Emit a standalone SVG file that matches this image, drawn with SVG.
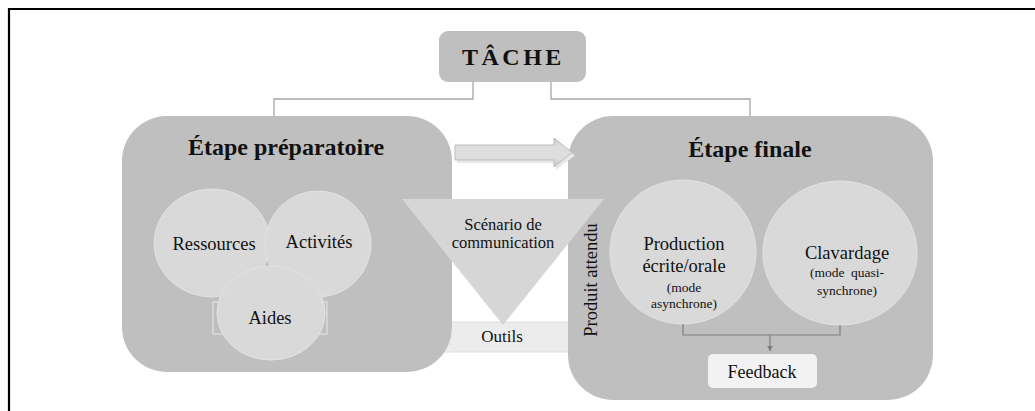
<svg xmlns="http://www.w3.org/2000/svg" width="1035" height="411" viewBox="0 0 1035 411">
  <defs>
    <style>
      .box { fill: #bfbfbf; }
      .circ { fill: #d9d9d9; stroke: #e3e3e3; stroke-width: 1; }
      .t { fill: #111; text-anchor: middle; }
      .title { font-size: 24px; font-weight: bold; }
      .lbl { font-size: 18.5px; }
      .sm { font-size: 13.5px; }
      .conn { fill: none; stroke: #a6a6a6; stroke-width: 1.3; }
      .conn2 { fill: none; stroke: #7f7f7f; stroke-width: 1.2; }
    </style>
    <linearGradient id="arrowGrad" x1="0" y1="0" x2="0" y2="1">
      <stop offset="0" stop-color="#c8c8c8"/>
      <stop offset="0.3" stop-color="#dedede"/>
      <stop offset="0.7" stop-color="#dedede"/>
      <stop offset="1" stop-color="#c4c4c4"/>
    </linearGradient>
    <marker id="ah" viewBox="0 0 10 10" refX="9" refY="5" markerWidth="6" markerHeight="6" orient="auto" markerUnits="userSpaceOnUse">
      <path d="M0,0 L10,5 L0,10 z" fill="#7f7f7f"/>
    </marker>
  </defs>

  <rect x="0" y="0" width="1035" height="411" fill="#ffffff"/>
  <path d="M9,411 L9,9 L1035,9" fill="none" stroke="#000" stroke-width="2.2"/>

  <g id="connectors">
    <path class="conn" d="M473,82 L473,99 L274,99 L274,116"/>
    <path class="conn" d="M551,82 L551,99 L750,99 L750,116"/>
  </g>

  <g id="outils">
    <rect x="440" y="322" width="140" height="30" fill="#ececec" stroke="#e0e0e0" stroke-width="1"/>
  </g>

  <g id="tache" font-family="Liberation Serif, serif">
    <rect x="439" y="31" width="147" height="51" rx="9" fill="#bfbfbf"/>
    <text x="462" y="65" font-size="24" font-weight="bold" letter-spacing="3.5" fill="#111">TÂCHE</text>
  </g>

  <g id="etape-preparatoire" font-family="Liberation Serif, serif">
    <rect class="box" x="122" y="116" width="330" height="256" rx="45"/>
    <text class="t title" x="286" y="155">Étape préparatoire</text>
  </g>

  <g id="etape-finale" font-family="Liberation Serif, serif">
    <rect class="box" x="568" y="116" width="365" height="284" rx="45"/>
    <text class="t title" x="750" y="157">Étape finale</text>
  </g>

  <g id="ressources" font-family="Liberation Serif, serif">
    <ellipse class="circ" cx="212" cy="243" rx="58" ry="54"/>
    <text class="t lbl" x="214" y="250">Ressources</text>
  </g>
  <g id="activites" font-family="Liberation Serif, serif">
    <ellipse class="circ" cx="318" cy="244" rx="53" ry="53"/>
    <text class="t lbl" x="319" y="248">Activités</text>
  </g>
  <g id="aides" font-family="Liberation Serif, serif">
    <rect x="213" y="302" width="114" height="32" fill="none" stroke="#e8e8e8" stroke-width="1"/>
    <ellipse class="circ" cx="271" cy="313" rx="54" ry="47"/>
    <text class="t lbl" x="270" y="324">Aides</text>
  </g>

  <g id="fleche">
    <polygon points="457,148 556,148 556,141 575,155.5 556,170 556,163 457,163" fill="#e8e8e8"/>
    <polygon points="455,145 554,145 554,138 572,152.5 554,167 554,160 455,160" fill="url(#arrowGrad)" stroke="#bdbdbd" stroke-width="1"/>
  </g>

  <g id="scenario" font-family="Liberation Serif, serif">
    <polygon points="402,199 604,199 503,325" fill="#d6d6d6"/>
    <text class="t" font-size="16.5" x="503" y="230">Scénario de</text>
    <text class="t" font-size="16.5" x="503" y="248">communication</text>
  </g>

  <g id="outils-label" font-family="Liberation Serif, serif">
    <text class="t" font-size="17" x="502" y="342">Outils</text>
  </g>

  <g id="produit-attendu" font-family="Liberation Serif, serif">
    <text class="t lbl" transform="translate(597,280) rotate(-90)" x="0" y="0">Produit attendu</text>
  </g>

  <g id="production" font-family="Liberation Serif, serif">
    <ellipse class="circ" cx="683" cy="252" rx="73" ry="72"/>
    <text class="t lbl" x="684" y="250">Production</text>
    <text class="t lbl" x="684" y="272">écrite/orale</text>
    <text class="t sm" x="684" y="292">(mode</text>
    <text class="t sm" x="684" y="308">asynchrone)</text>
  </g>

  <g id="clavardage" font-family="Liberation Serif, serif">
    <ellipse class="circ" cx="840" cy="253" rx="77" ry="72"/>
    <text class="t lbl" x="847" y="259">Clavardage</text>
    <text class="t sm" x="847" y="277" word-spacing="3">(mode quasi-</text>
    <text class="t sm" x="847" y="295">synchrone)</text>
  </g>

  <g id="feedback-connectors">
    <path class="conn2" d="M683,324 L683,335 L840,335 L840,325"/>
    <path class="conn2" d="M770,335 L770,351" marker-end="url(#ah)"/>
  </g>

  <g id="feedback" font-family="Liberation Serif, serif">
    <rect x="708" y="354" width="109" height="34" rx="5" fill="#f2f2f2"/>
    <text class="t" font-size="18" x="762" y="378">Feedback</text>
  </g>
</svg>
